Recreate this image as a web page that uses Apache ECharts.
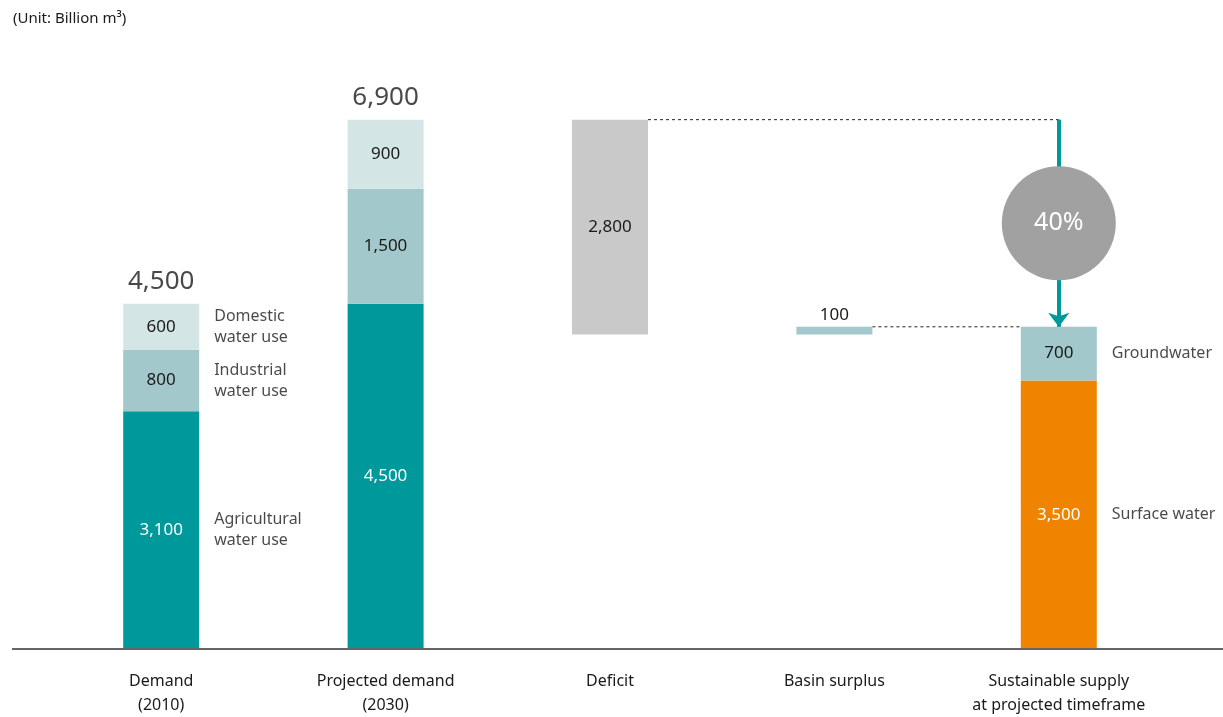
<!DOCTYPE html>
<html>
<head>
<meta charset="utf-8">
<script src="https://cdn.jsdelivr.net/npm/echarts@6/dist/echarts.min.js"></script>
<style>
  html, body { margin: 0; padding: 0; background: #fff; }
  #chart { width: 1223px; height: 717px; }
</style>
</head>
<body>
<div id="chart"></div>
<script>
// categories along the bottom
const categories = ["Demand\n(2010)", "Projected demand\n(2030)", "Deficit", "Basin surplus", "Sustainable supply\nat projected timeframe"];

// demand / supply components (billion m3)
const bottomVals = [3100, 4500, null, null, 3500]; // agricultural / surface water
const middleVals = [800, 1500, null, null, 700];   // industrial / groundwater
const topVals = [600, 900, null, null, null];      // domestic
const deficitVals = [null, null, 2800, null, null];
const surplusVals = [null, null, null, 100, null];
const floatBase = [0, 0, 4100, 4100, 0];           // invisible base for floating bars

// side labels
const bottomNames = ["Agricultural\nwater use", null, null, null, "Surface water"];
const middleNames = ["Industrial\nwater use", null, null, null, "Groundwater"];
const topNames = ["Domestic\nwater use", null, null, null, null];

const totals = [4500, 6900, null, null, null];
const shareText = "40%";

const FONT = '"Noto Sans", "Noto Sans CJK JP", sans-serif';
const TEXT = "#1a1a1a";
const TEAL = "#00999b";
const MID = "#a3c8cb";
const LIGHT = "#d3e5e5";
const GREY = "#c8c9c8";
const ORANGE = "#f08300";

const GRID_LEFT = 49, GRID_RIGHT = 52, BAR_W = 76;
const fmt = v => Number(v).toLocaleString("en-US");

let chartInit = echarts.init(document.getElementById("chart"));

// midpoint of each stacked segment, used for side labels
const sideLabelPts = [];
categories.forEach((c, i) => {
  if (bottomNames[i]) sideLabelPts.push({ value: [i, bottomVals[i] / 2], name: bottomNames[i] });
  if (middleNames[i]) sideLabelPts.push({ value: [i, bottomVals[i] + middleVals[i] / 2], name: middleNames[i] });
  if (topNames[i]) sideLabelPts.push({ value: [i, bottomVals[i] + middleVals[i] + topVals[i] / 2], name: topNames[i] });
});

const supplyTotal = bottomVals[4] + middleVals[4];
const demandTop = totals[1];
// half a bar, in category units (for the hidden value x-axis)
const halfBar = (BAR_W / 2) / ((1223 - GRID_LEFT - GRID_RIGHT) / categories.length);

const insideLabel = (color) => ({
  show: true,
  position: "inside",
  color: color,
  fontSize: 17,
  fontFamily: FONT,
  formatter: p => fmt(p.value),
});

const barBase = {
  type: "bar",
  stack: "s",
  barWidth: BAR_W,
  z: 3,
};

// dashed connector from one bar edge to the next bar
const connector = (name, from, to, val) => ({
  name: name,
  type: "line",
  xAxisIndex: 1,
  z: 1,
  silent: true,
  symbol: "none",
  lineStyle: { color: "#222", type: [3, 3], width: 1 },
  data: [[from, val], [to, val]],
});

let option = {
  animation: false,
  title: {
    text: "(Unit: Billion m³)",
    left: 8,
    top: 6,
    textStyle: { fontSize: 15, fontWeight: "normal", color: TEXT, fontFamily: FONT },
  },
  grid: { left: GRID_LEFT, right: GRID_RIGHT, top: 112, bottom: 67 },
  xAxis: [
    {
      type: "category",
      data: categories,
      axisLine: { show: false },
      axisTick: { show: false },
      axisLabel: { interval: 0, color: TEXT, fontSize: 16, lineHeight: 24, margin: 20, fontFamily: FONT },
    },
    {
      type: "value",
      min: -0.5,
      max: categories.length - 0.5,
      show: false,
      splitLine: { show: false },
    },
  ],
  yAxis: {
    type: "value",
    min: 0,
    max: 7000,
    show: false,
    splitLine: { show: false },
  },
  series: [
    Object.assign({}, barBase, {
      name: "base",
      itemStyle: { color: "transparent" },
      data: floatBase,
      silent: true,
    }),
    Object.assign({}, barBase, {
      name: "bottom",
      data: bottomVals.map((v, i) => v == null ? "-" : { value: v, itemStyle: { color: i === 4 ? ORANGE : TEAL } }),
      label: insideLabel("#fff"),
    }),
    Object.assign({}, barBase, {
      name: "middle",
      itemStyle: { color: MID },
      data: middleVals.map(v => v == null ? "-" : v),
      label: insideLabel(TEXT),
    }),
    Object.assign({}, barBase, {
      name: "top",
      itemStyle: { color: LIGHT },
      data: topVals.map(v => v == null ? "-" : v),
      label: insideLabel(TEXT),
    }),
    Object.assign({}, barBase, {
      name: "deficit",
      itemStyle: { color: GREY },
      data: deficitVals.map(v => v == null ? "-" : v),
      label: insideLabel(TEXT),
    }),
    Object.assign({}, barBase, {
      name: "surplus",
      itemStyle: { color: MID },
      data: surplusVals.map(v => v == null ? "-" : v),
      label: {
        show: true,
        position: "top",
        distance: 3,
        color: TEXT,
        fontSize: 17,
        fontFamily: FONT,
        formatter: p => fmt(p.value),
      },
    }),
    // side labels next to the stacked bars
    {
      name: "sideLabels",
      type: "scatter",
      symbolSize: 0,
      silent: true,
      z: 5,
      data: sideLabelPts,
      label: {
        show: true,
        position: "right",
        distance: 53,
        align: "left",
        color: TEXT,
        fontSize: 16,
        lineHeight: 21,
        fontFamily: FONT,
        formatter: p => p.name,
      },
    },
    // totals above bars
    {
      name: "totals",
      type: "scatter",
      symbolSize: 0,
      silent: true,
      z: 5,
      data: totals.map((v, i) => v == null ? null : [i, v]).filter(d => d),
      label: {
        show: true,
        position: "top",
        distance: 9,
        color: TEXT,
        fontSize: 26,
        fontFamily: FONT,
        formatter: p => fmt(p.value[1]),
      },
    },
    connector("dash1", 2 + halfBar, 4, demandTop),
    connector("dash2", 3 + halfBar, 4 - halfBar, supplyTotal),
    {
      name: "arrow",
      type: "line",
      data: [],
      z: 4,
      markLine: {
        silent: true,
        animation: false,
        symbol: ["none", "arrow"],
        symbolSize: [16, 14],
        label: { show: false },
        lineStyle: { color: TEAL, type: "solid", width: 4 },
        data: [
          [{ coord: [4, demandTop] }, { coord: [4, supplyTotal] }],
        ],
      },
    },
    {
      name: "share",
      type: "scatter",
      silent: true,
      z: 6,
      symbolSize: 114,
      itemStyle: { color: "#a0a1a0", opacity: 1 },
      data: [[4, (demandTop + supplyTotal) / 2]],
      label: {
        show: true,
        position: "inside",
        color: "#fff",
        fontSize: 25,
        fontFamily: FONT,
        formatter: () => shareText,
      },
    },
  ],
};

chartInit.setOption(option);

// baseline across the full width
const y0 = chartInit.convertToPixel({ gridIndex: 0 }, [0, 0])[1];
chartInit.setOption({
  graphic: [{
    type: "line",
    shape: { x1: 12, y1: y0, x2: 1223, y2: y0 },
    style: { stroke: "#666", lineWidth: 2 },
    z: 10,
    silent: true,
  }],
});
</script>
</body>
</html>
